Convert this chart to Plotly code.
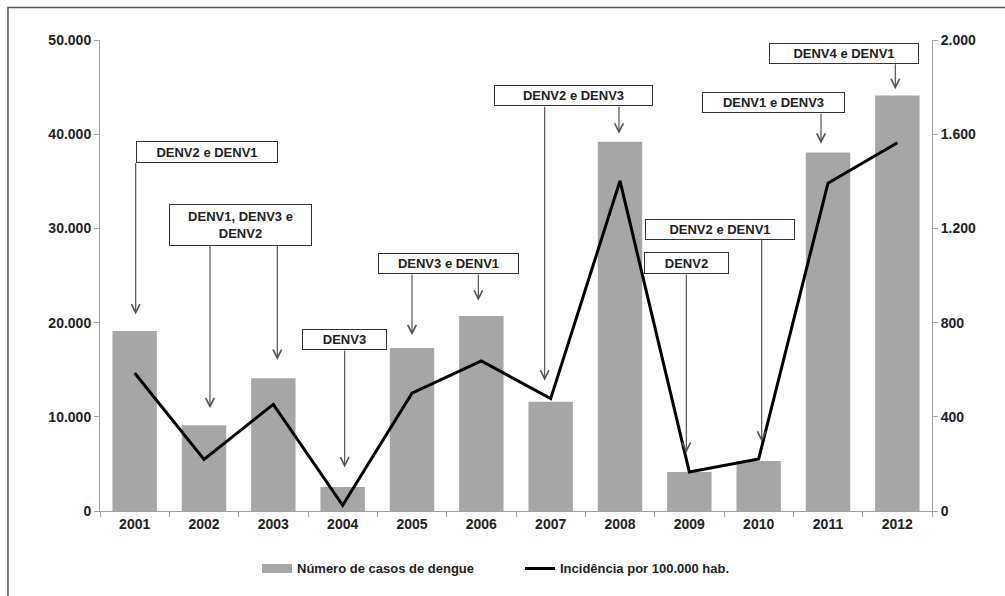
import plotly.graph_objects as go

years = ["2001", "2002", "2003", "2004", "2005", "2006",
         "2007", "2008", "2009", "2010", "2011", "2012"]
cases = [19100, 9100, 14100, 2550, 17300, 20700,
         11600, 39200, 4150, 5300, 38050, 44100]
incidence = [586, 219, 453, 24, 500, 637,
             477, 1402, 166, 221, 1392, 1564]

left_tickvals = [0, 10000, 20000, 30000, 40000, 50000]
left_ticktext = ["0", "10.000", "20.000", "30.000", "40.000", "50.000"]
right_tickvals = [0, 400, 800, 1200, 1600, 2000]
right_ticktext = ["0", "400", "800", "1.200", "1.600", "2.000"]

bar_name = "Número de casos de dengue"
line_name = "Incidência por 100.000 hab."

# Serotype label boxes: text, x (category index), top (left-axis units), width px, height px
box_texts = ["DENV2 e DENV1", "DENV1, DENV3 e<br>DENV2", "DENV3", "DENV3 e DENV1",
             "DENV2 e DENV3", "DENV2 e DENV1", "DENV2", "DENV1 e DENV3", "DENV4 e DENV1"]
box_x = [1.043, 1.527, 3.027, 4.527, 6.33, 8.44, 7.96, 9.21, 10.23]
box_top = [39300, 32600, 19290, 27360, 45180, 31030, 27460, 44440, 49690]
box_w = [142, 143, 85, 141, 159, 150, 85, 143, 150]
box_h = [22, 42, 21, 21, 21, 21, 22, 21, 21]

# Connector arrows: one per year, x shift px, tail (box bottom) and tip in left-axis units
arrow_shift = [1, 6, 4, 2, 0, -3, -6, -1, -3, 3, -7, -2]
arrow_tail = [37000, 28200, 28200, 17090, 25160, 25160, 42980, 42980, 25160, 28830, 42240, 47480]
arrow_tip = [20860, 10900, 16040, 4610, 18660, 22330, 13840, 40040, 6180, 7340, 38990, 44760]

FONT = "Liberation Sans, Arial, sans-serif"
TXT = "#222222"
BAR_COLOR = "#a6a6a6"

fig = go.Figure()
fig.add_trace(go.Bar(x=years, y=cases, name=bar_name, showlegend=False,
                     marker=dict(color=BAR_COLOR, line=dict(width=0))))
fig.add_trace(go.Scatter(x=years, y=incidence, name=line_name, yaxis="y2",
                         mode="lines", line=dict(color="black", width=3), showlegend=False))
# legend entries (wide rectangle swatch for the bars, line swatch for the incidence)
fig.add_trace(go.Scatter(x=[None], y=[None], name=bar_name, mode="lines",
                         line=dict(color=BAR_COLOR, width=9)))
fig.add_trace(go.Scatter(x=[None], y=[None], name=line_name, mode="lines",
                         line=dict(color="black", width=3)))

annotations = []
for t, x, top, w, h in zip(box_texts, box_x, box_top, box_w, box_h):
    annotations.append(dict(
        text=t, x=x, y=top, xref="x", yref="y", xanchor="center", yanchor="top",
        width=w - 2, height=h - 2, borderpad=0, borderwidth=1, bordercolor="#333333",
        bgcolor="white", showarrow=False, align="center", valign="middle",
        font=dict(family=FONT, size=13, color=TXT, weight="bold")))
for i, (sh, tail, tip) in enumerate(zip(arrow_shift, arrow_tail, arrow_tip)):
    annotations.append(dict(
        text=" ", font=dict(size=1, color="rgba(0,0,0,0)"), width=1, height=1,
        x=i, y=tip, xref="x", yref="y", xshift=sh,
        showarrow=True, axref="x", ax=i, ayref="y", ay=tail,
        arrowhead=5, arrowsize=1.4, arrowwidth=1.2, arrowcolor="#555555",
        borderpad=0, borderwidth=0, standoff=0, startstandoff=0))

axis_common = dict(showgrid=False, zeroline=False, showline=True, linecolor="#a0a0a0",
                   linewidth=1, ticks="outside", ticklen=5, tickcolor="#a0a0a0",
                   tickfont=dict(family=FONT, size=14, color=TXT, weight="bold"))

fig.update_layout(
    width=1005, height=596,
    margin=dict(l=100, r=73, t=40, b=79),
    paper_bgcolor="white", plot_bgcolor="white",
    bargap=0.36,
    showlegend=True,
    hovermode=False,
    legend=dict(orientation="h", x=0.1887, xanchor="left", y=-0.122, yanchor="middle",
                entrywidth=218, entrywidthmode="pixels",
                font=dict(family=FONT, size=13, color=TXT, weight="bold"),
                bgcolor="rgba(0,0,0,0)"),
    xaxis=dict(type="category", range=[-0.5, 11.5], tickson="boundaries", **axis_common),
    yaxis=dict(range=[0, 50000], tickvals=left_tickvals, ticktext=left_ticktext, **axis_common),
    yaxis2=dict(range=[0, 2000], overlaying="y", side="right",
                tickvals=right_tickvals, ticktext=right_ticktext, **axis_common),
    annotations=annotations,
    shapes=[dict(type="rect", xref="paper", yref="paper",
                 x0=-0.1106, x1=1.3, y0=-0.4, y1=1.069,
                 line=dict(color="#555555", width=1.5), fillcolor="rgba(0,0,0,0)",
                 layer="below")],
)

fig.write_html("out.html", config={"displayModeBar": False},
               post_script="document.body.style.margin='0';document.body.style.overflow='hidden';")
